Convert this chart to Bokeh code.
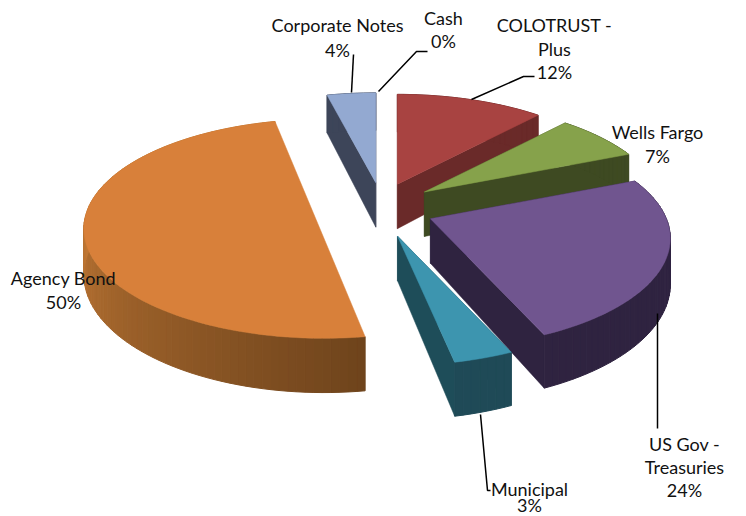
import math
from bokeh.plotting import figure
from bokeh.core.properties import value
from bokeh.embed import file_html
from bokeh.resources import INLINE

# --- data ---
categories = ["COLOTRUST - Plus", "Wells Fargo", "US Gov - Treasuries", "Municipal", "Agency Bond", "Corporate Notes", "Cash"]
shares = [11.8, 7.0, 24.6, 3.4, 49.3, 3.9, 0.0]
label_lines = [["COLOTRUST -", "Plus", "12%"], ["Wells Fargo", "7%"], ["US Gov -", "Treasuries", "24%"],
               ["Municipal", "3%"], ["Agency Bond", "50%"], ["Corporate Notes", "4%"], ["Cash", "0%"]]

# --- style ---
top_colors = ["#A84341", "#86A24B", "#70558F", "#3D95AF", "#D8803A", "#93A9D1", "#4BACC6"]
wall_near = ["#6A2A29", "#3E4A22", "#2F2340", "#1F4A57", "#6F441C", "#3D4559", "#2A6070"]
wall_far = ["#6A2A29", "#3E4A22", "#2F2340", "#1F4A57", "#C07835", "#3D4559", "#2A6070"]
inner_wall = ["#6A2A29", "#3E4A22", "#2F2340", "#1E4D59", "#6F441C", "#3D4559", "#2A6070"]
explode = [0.20, 0.245, 0.24, 0.24, 0.27, 0.20, 0.20]
nudge_x = [0, -3, -2, 0, 5, 1, 0]
nudge_y = [0, 2, 0, 0, -5, 0, 0]
start_trim = [0, 0, 0, 0, 0.009, 0, 0]
CX, CY = 380.0, 207.0
RX, RY, K, DEPTH = 236.0, 106.0, 0.18, 44.5
EXPLODE_X, EXPLODE_Y = 233.0, 125.0
label_x = [554, 657, 684, 529, 63, 337, 443]
label_y = [[24, 48, 71], [131, 155], [443, 466, 489], [488, 504], [277, 301], [24, 49], [17, 40]]
leaders = [([534, 523, 471], [76, 76, 99]), ([657, 657], [313, 428]), ([490, 487, 480], [490, 490, 414]),
           ([353, 351], [54, 92]), ([427, 416, 378], [51, 51, 91])]


def proj(u, v, ox, oy, drop=False):
    d = 1 + K * v
    y = oy - RY * v / d
    if drop:
        y += DEPTH / d
    return ox + RX * u / d, y


def mix(a, b, t):
    ca = [int(a[i:i + 2], 16) for i in (1, 3, 5)]
    cb = [int(b[i:i + 2], 16) for i in (1, 3, 5)]
    return "#%02x%02x%02x" % tuple(round(x + (y - x) * t) for x, y in zip(ca, cb))


p = figure(width=746, height=516, x_range=(0, 746), y_range=(516, 0), output_backend="svg",
           toolbar_location=None, min_border=0, outline_line_color=None)
p.axis.visible = False
p.grid.visible = False

total = sum(shares)
slices = []
start = 0.0
for i, s in enumerate(shares):
    a0 = (start / total + start_trim[i]) * 2 * math.pi
    start += s
    a1 = start / total * 2 * math.pi
    mid = (a0 + a1) / 2
    slices.append((math.cos(mid), i, a0, a1, mid))

# paint back slices first
for _, i, a0, a1, mid in sorted(slices, key=lambda t: -t[0]):
    if a1 - a0 < 1e-6:
        continue
    ox = CX + explode[i] * EXPLODE_X * math.sin(mid) + nudge_x[i]
    oy = CY - explode[i] * EXPLODE_Y * math.cos(mid) + nudge_y[i]
    n = max(6, int((a1 - a0) / 0.03))
    angs = [a0 + (a1 - a0) * j / n for j in range(n + 1)]
    pts = [(math.sin(a), math.cos(a)) for a in angs]
    ax, ay = proj(0, 0, ox, oy)
    bx, by = proj(0, 0, ox, oy, True)
    half = a1 - a0 > 0.9 * math.pi
    # radial walls
    if not half:
        for uv in (pts[0], pts[-1]):
            tx, ty = proj(uv[0], uv[1], ox, oy)
            wx, wy = proj(uv[0], uv[1], ox, oy, True)
            p.patch([ax, tx, wx, bx], [ay, ty, wy, by], fill_color=inner_wall[i], line_color=inner_wall[i], line_width=0.5)
    # rim wall, shaded along the arc up to the left-most point
    for j in range(n):
        t1 = proj(*pts[j], ox, oy)
        t2 = proj(*pts[j + 1], ox, oy)
        w2 = proj(*pts[j + 1], ox, oy, True)
        w1 = proj(*pts[j], ox, oy, True)
        frac = min(1.0, max(0.0, (angs[j] - a0) / max(1e-6, 1.5 * math.pi - a0)))
        c = mix(wall_near[i], wall_far[i], frac)
        p.patch([t1[0], t2[0], w2[0], w1[0]], [t1[1], t2[1], w2[1], w1[1]], fill_color=c, line_color=c, line_width=1)
    # top face
    fx = [proj(u, v, ox, oy)[0] for u, v in pts]
    fy = [proj(u, v, ox, oy)[1] for u, v in pts]
    if not half:
        fx, fy = [ax] + fx, [ay] + fy
    p.patch(fx, fy, fill_color=top_colors[i], line_color=top_colors[i], line_width=0.5)

for xs, ys in leaders:
    p.line(xs, ys, line_color="black", line_width=1.5)

for lines, x, ys in zip(label_lines, label_x, label_y):
    p.text([x] * len(lines), ys, text=lines, text_font=value("Lato"), text_font_size="18px",
           text_color="#111111", text_align="center", text_baseline="middle")

open("out.html", "w").write(file_html(p, INLINE))
